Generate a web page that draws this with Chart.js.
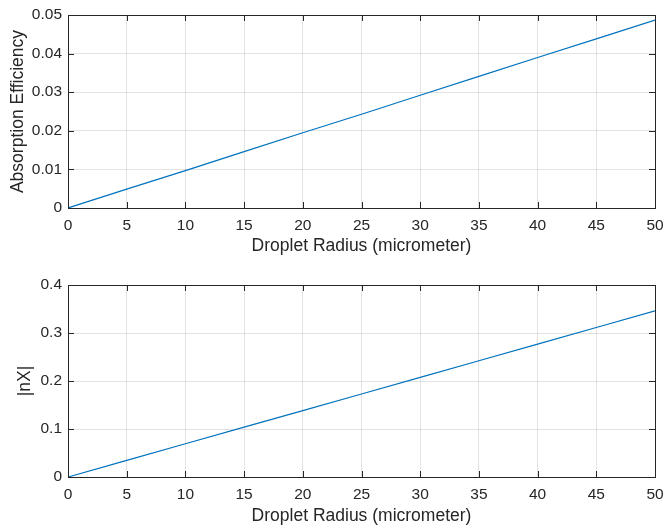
<!DOCTYPE html>
<html>
<head>
<meta charset="utf-8">
<script src="https://cdn.jsdelivr.net/npm/chart.js@4/dist/chart.umd.min.js"></script>
<style>
  body { margin: 0; background: #fff; }
  .box { position: absolute; left: 0; width: 665px; }
</style>
</head>
<body>
<div class="box" style="top:0;height:265px"><canvas id="topChart"></canvas></div>
<div class="box" style="top:265px;height:262px"><canvas id="bottomChart"></canvas></div>
<script>
// droplet radius (micrometer)
const radius = [0, 5, 10, 15, 20, 25, 30, 35, 40, 45, 50];
// values
const absorption = [0, 0.0049, 0.0097, 0.0146, 0.0195, 0.0243, 0.0292, 0.0341, 0.0390, 0.0438, 0.0487];
const nX = [0, 0.0346, 0.0692, 0.1038, 0.1384, 0.1730, 0.2076, 0.2422, 0.2768, 0.3114, 0.3460];

const topTicks = [0, 0.01, 0.02, 0.03, 0.04, 0.05];
const bottomTicks = [0, 0.1, 0.2, 0.3, 0.4];

const font = "'Liberation Sans', Arial, sans-serif";
const textColor = "#262626";

// matlab style box + inward ticks
const boxPlugin = {
  id: "box",
  afterDatasetsDraw(chart) {
    const ctx = chart.ctx, a = chart.chartArea;
    const xs = chart.scales.x, ys = chart.scales.y;
    ctx.save();
    ctx.strokeStyle = textColor;
    ctx.lineWidth = 1;
    ctx.beginPath();
    xs.ticks.forEach(t => {
      const px = Math.round(xs.getPixelForValue(t.value)) + 0.5;
      ctx.moveTo(px, a.bottom); ctx.lineTo(px, a.bottom - 6);
      ctx.moveTo(px, a.top); ctx.lineTo(px, a.top + 6);
    });
    ys.ticks.forEach(t => {
      const py = Math.round(ys.getPixelForValue(t.value)) + 0.5;
      ctx.moveTo(a.left, py); ctx.lineTo(a.left + 6, py);
      ctx.moveTo(a.right, py); ctx.lineTo(a.right - 6, py);
    });
    ctx.stroke();
    ctx.strokeRect(Math.round(a.left) + 0.5, Math.round(a.top) + 0.5,
      Math.round(a.right - a.left), Math.round(a.bottom - a.top));
    ctx.restore();
  }
};

function makeChart(id, values, yTicks, yMax, yTitle, padTop, xHeight, xTitlePad, yTitlePad) {
  return new Chart(document.getElementById(id), {
    type: "line",
    data: {
      labels: radius,
      datasets: [{
        data: radius.map((r, i) => ({ x: r, y: values[i] })),
        borderColor: "#0072BD",
        borderWidth: 1.2,
        pointRadius: 0,
        tension: 0
      }]
    },
    options: {
      responsive: true,
      maintainAspectRatio: false,
      animation: false,
      layout: { padding: { top: padTop, right: 10, left: 0, bottom: 0 } },
      plugins: { legend: { display: false }, tooltip: { enabled: false } },
      scales: {
        x: {
          type: "linear", min: 0, max: 50,
          afterBuildTicks: s => { s.ticks = radius.map(v => ({ value: v })); },
          afterFit: s => { s.height = xHeight; s.paddingLeft = 0; s.paddingRight = 0; },
          grid: { color: "rgba(0,0,0,0.11)", drawTicks: false },
          border: { display: false },
          ticks: { color: textColor, font: { family: font, size: 15.5 }, padding: 8, maxRotation: 0 },
          title: { display: true, text: "Droplet Radius (micrometer)", color: textColor,
                   font: { family: font, size: 17.5 }, padding: { top: 0, bottom: xTitlePad } }
        },
        y: {
          type: "linear", min: 0, max: yMax,
          afterBuildTicks: s => { s.ticks = yTicks.map(v => ({ value: v })); },
          afterFit: s => { s.width = 68; s.paddingTop = 0; s.paddingBottom = 0; },
          grid: { color: "rgba(0,0,0,0.11)", drawTicks: false },
          border: { display: false },
          ticks: { color: textColor, font: { family: font, size: 15.5 }, padding: 6,
                   callback: v => String(v) },
          title: { display: true, text: yTitle, color: textColor,
                   font: { family: font, size: 17.5 }, padding: { top: yTitlePad, bottom: 0 } }
        }
      }
    },
    plugins: [boxPlugin]
  });
}

makeChart("topChart", absorption, topTicks, 0.05, "Absorption Efficiency", 15, 57, 8, 8);
makeChart("bottomChart", nX, bottomTicks, 0.4, "|nX|", 20, 50, 0, 15);
</script>
</body>
</html>
